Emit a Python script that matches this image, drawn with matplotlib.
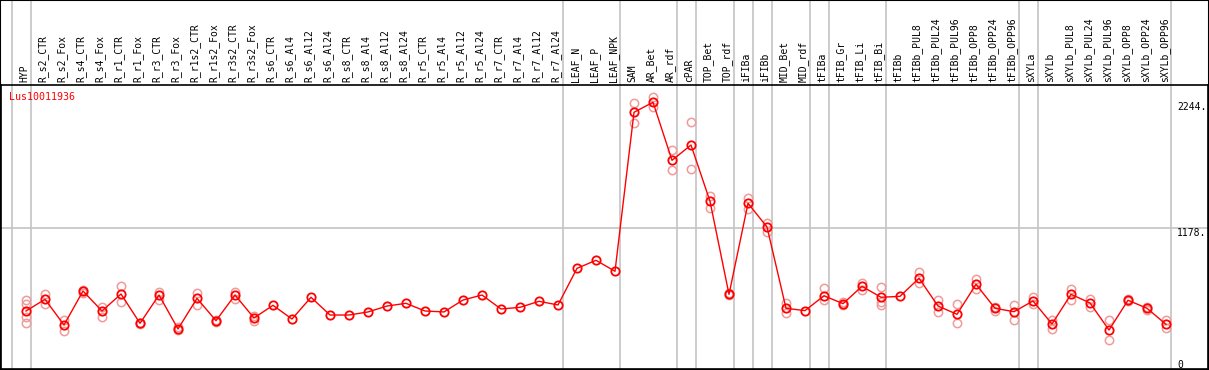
import matplotlib
matplotlib.use("Agg")
import matplotlib.pyplot as plt
from matplotlib.patches import Rectangle
import matplotlib.transforms as mtransforms

gene = "Lus10011936"

samples = ["HYP", "R_s2_CTR", "R_s2_Fox", "R_s4_CTR", "R_s4_Fox", "R_r1_CTR", "R_r1_Fox",
           "R_r3_CTR", "R_r3_Fox", "R_r1s2_CTR", "R_r1s2_Fox", "R_r3s2_CTR", "R_r3s2_Fox",
           "R_s6_CTR", "R_s6_Al4", "R_s6_Al12", "R_s6_Al24", "R_s8_CTR", "R_s8_Al4",
           "R_s8_Al12", "R_s8_Al24", "R_r5_CTR", "R_r5_Al4", "R_r5_Al12", "R_r5_Al24",
           "R_r7_CTR", "R_r7_Al4", "R_r7_Al12", "R_r7_Al24", "LEAF_N", "LEAF_P", "LEAF_NPK",
           "SAM", "AR_Bet", "AR_rdf", "cPAR", "TOP_Bet", "TOP_rdf", "iFIBa", "iFIBb",
           "MID_Bet", "MID_rdf", "tFIBa", "tFIB_Gr", "tFIB_Li", "tFIB_Bi", "tFIBb",
           "tFIBb_PUL8", "tFIBb_PUL24", "tFIBb_PUL96", "tFIBb_OPP8", "tFIBb_OPP24",
           "tFIBb_OPP96", "sXYLa", "sXYLb", "sXYLb_PUL8", "sXYLb_PUL24", "sXYLb_PUL96",
           "sXYLb_OPP8", "sXYLb_OPP24", "sXYLb_OPP96"]

means = [478, 577, 360, 647, 478, 622, 374, 613, 326, 585, 396, 613, 419,
         526, 410, 594, 444, 444, 470, 520, 543, 478, 470, 571, 613,
         495, 509, 560, 529, 839, 907, 814,
         2159, 2244, 1753, 1882, 1406, 619, 1389, 1189, 501, 481,
         607, 540, 687, 594, 602, 755, 520, 450, 704, 501, 472,
         563, 368, 619, 546, 317, 569, 501, 365]

replicates = [[568, 540, 430, 374], [619, 535], [402, 311], [656, 633], [514, 425],
              [689, 557], [379, 368], [641, 571], [340, 317], [633, 529], [402, 387],
              [641, 577], [436, 393],
              [], [], [], [], [], [], [], [], [], [], [], [], [], [], [], [], [], [], [],
              [2235, 2068], [2286, 2201], [1838, 1671], [2074, 1677], [1453, 1352],
              [628, 611], [1434, 1341], [1225, 1149], [543, 459], [],
              [670, 571], [554, 529], [712, 656], [678, 554, 526], [],
              [808, 712], [571, 467], [535, 374], [749, 662], [514, 481], [526, 402],
              [594, 535], [402, 328], [664, 571], [580, 512], [402, 230], [577, 560],
              [514, 486], [402, 334]]

group_ends = [-1, 0, 28, 31, 34, 35, 37, 38, 39, 41, 42, 45, 52, 53, 60]
y_ticks = [2244, 1178, 0]
y_tick_labels = ["2244.", "1178.", "0"]

W, H = 1209, 370
fig = plt.figure(figsize=(W / 100, H / 100), dpi=100)
fig.add_artist(Rectangle((0, 0), 1, 1, transform=fig.transFigure, fill=False,
                         edgecolor="black", linewidth=1.5))

ax = fig.add_axes([1 / W, 1 / H, 1207 / W, 284 / H])
ax.set_xlim(-1.316, 62.21)
ax.set_ylim(-12.7, 2390)
ax.set_xticks([])
ax.set_yticks([])
for s in ax.spines.values():
    s.set_color("black")
    s.set_linewidth(1.2)

grey = "#c4c4c4"
ax.axhline(1178, color=grey, linewidth=1.2, zorder=1)
for g in group_ends:
    ax.axvline(g + 0.24, ymin=0, ymax=370 / 284, color=grey, linewidth=1.2,
               clip_on=False, zorder=1)

xs = list(range(len(samples)))
for i, reps in enumerate(replicates):
    if reps:
        ax.plot([i] * len(reps), reps, linestyle="none", marker="o", markersize=6,
                markerfacecolor="none", markeredgecolor="#f09a9a", markeredgewidth=1.1,
                zorder=2)
ax.plot(xs, means, color="red", linewidth=1, marker="o", markersize=6,
        markerfacecolor="none", markeredgecolor="red", markeredgewidth=1.3, zorder=3)

trans = mtransforms.blended_transform_factory(ax.transData, ax.transAxes)
for i, lab in enumerate(samples):
    ax.text(i - 0.1, 1.01, lab, rotation=90, ha="center", va="bottom", transform=trans,
            fontsize=7, family="DejaVu Sans Mono", color="black", clip_on=False)

ax.text(0.007, 0.975, gene, transform=ax.transAxes, color="red", fontsize=7.2,
        family="DejaVu Sans Mono", ha="left", va="top")

tick_trans = mtransforms.blended_transform_factory(ax.transAxes, ax.transData)
for v, lab in zip(y_ticks, y_tick_labels):
    yy = v if v > 0 else 60
    ax.text(0.9746, yy, lab, transform=tick_trans, fontsize=7, family="DejaVu Sans Mono",
            ha="left", va="top", color="black")

fig.savefig("out.png", dpi=100)
